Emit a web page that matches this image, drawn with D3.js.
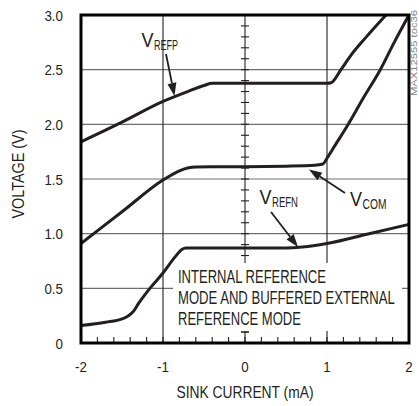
<!DOCTYPE html>
<html><head><meta charset="utf-8">
<script src="https://cdn.jsdelivr.net/npm/d3@7"></script>
<style>
body{margin:0;background:#fff;}
text{font-family:"Liberation Sans",Arial,sans-serif;fill:#231f20;}
</style></head>
<body><svg id="c" width="419" height="406"></svg>
<script>
// Data (x: sink current mA, y: voltage V)
const vrefpX = [-2, -1.5, -1.0, -0.7, -0.5, -0.4, 0, 0.5, 1.0, 1.05, 1.17, 1.28, 1.48, 1.72];
const vrefpY = [1.84, 2.02, 2.21, 2.30, 2.355, 2.375, 2.375, 2.375, 2.375, 2.38, 2.5, 2.62, 2.8, 3.0];
const vcomX = [-2, -1.5, -1.0, -0.8, -0.7, -0.6, -0.4, 0, 0.5, 0.85, 0.95, 1.0, 1.1, 1.25, 1.45, 1.65, 1.82, 2.0];
const vcomY = [0.91, 1.2, 1.49, 1.575, 1.60, 1.61, 1.613, 1.613, 1.617, 1.625, 1.637, 1.69, 1.81, 1.99, 2.25, 2.5, 2.75, 3.0];
const vrefnX = [-2, -1.7, -1.5, -1.42, -1.36, -1.3, -1.16, -1.0, -0.85, -0.77, -0.72, -0.5, 0, 0.5, 0.7, 1.0, 1.5, 2.0];
const vrefnY = [0.16, 0.19, 0.22, 0.25, 0.29, 0.36, 0.5, 0.64, 0.79, 0.855, 0.868, 0.87, 0.87, 0.87, 0.878, 0.91, 0.997, 1.085];
const xTicks = [-2, -1, 0, 1, 2];
const xTickLabels = ["-2", "-1", "0", "1", "2"];
const yTicks = [0, 0.5, 1.0, 1.5, 2.0, 2.5, 3.0];
const yTickLabels = ["0", "0.5", "1.0", "1.5", "2.0", "2.5", "3.0"];
const xTitle = "SINK CURRENT (mA)";
const yTitle = "VOLTAGE (V)";
const noteLines = ["INTERNAL REFERENCE", "MODE AND BUFFERED EXTERNAL", "REFERENCE MODE"];
const docId = "MAX12555 toc36";

const svg = d3.select("#c");
const L = 81, R = 409, T = 15, B = 343;
const x = d3.scaleLinear().domain([-2, 2]).range([L, R]);
const y = d3.scaleLinear().domain([0, 3]).range([B, T]);
const ink = "#231f20";
const narrow = 0.86; // condensed-font width factor

function fitText(sel) {
  sel.each(function () {
    const w = this.getComputedTextLength();
    d3.select(this).attr("textLength", w * narrow).attr("lengthAdjust", "spacingAndGlyphs");
  });
}

// horizontal gray grid
svg.selectAll(".hg").data(yTicks.filter(v => v > 0 && v < 3)).enter().append("line")
  .attr("x1", L).attr("x2", R).attr("y1", d => y(d)).attr("y2", d => y(d))
  .attr("stroke", "#6d6e71").attr("stroke-width", 1.1);
// vertical grid at -1, 0, 1
svg.selectAll(".vg").data([-1, 0, 1]).enter().append("line")
  .attr("x1", d => x(d)).attr("x2", d => x(d)).attr("y1", T).attr("y2", B)
  .attr("stroke", ink).attr("stroke-width", 1.1);
// center axis minor ticks every 0.1 V
const cTicks = d3.range(1, 30).map(i => i / 10);
svg.selectAll(".ct").data(cTicks).enter().append("line")
  .attr("x1", x(0) - 4).attr("x2", x(0) + 4).attr("y1", d => y(d)).attr("y2", d => y(d))
  .attr("stroke", ink).attr("stroke-width", 1.1);
// bottom minor ticks every 0.2 mA
const bTicks = d3.range(-9, 10).map(i => i / 5);
svg.selectAll(".bt").data(bTicks).enter().append("line")
  .attr("x1", d => x(d)).attr("x2", d => x(d)).attr("y1", B).attr("y2", B - 6)
  .attr("stroke", ink).attr("stroke-width", 1.1);

// note box (white background)
svg.append("rect").attr("x", 173).attr("y", 263).attr("width", 229).attr("height", 68).attr("fill", "#fff");
const noteW = [148, 217, 123];
noteLines.forEach((t, i) => {
  const g = svg.append("g");
  const tx = g.append("text").attr("x", 0).attr("y", 0).attr("font-size", 17.5).text(t);
  const sx = noteW[i] / tx.node().getComputedTextLength();
  g.attr("transform", `translate(178,${283 + i * 21}) scale(${sx},1)`);
});
// center tick visible below box
svg.append("line").attr("x1", x(0) - 4).attr("x2", x(0) + 4).attr("y1", y(0.1)).attr("y2", y(0.1)).attr("stroke", ink);

// curves
const line = d3.line().curve(d3.curveMonotoneX);
[[vrefpX, vrefpY], [vcomX, vcomY], [vrefnX, vrefnY]].forEach(([xs, ys]) => {
  svg.append("path").attr("d", line(xs.map((v, i) => [x(v), y(ys[i])])))
    .attr("fill", "none").attr("stroke", ink).attr("stroke-width", 3).attr("stroke-linejoin", "round");
});

// frame
svg.append("rect").attr("x", L).attr("y", T).attr("width", R - L).attr("height", B - T)
  .attr("fill", "none").attr("stroke", "#000").attr("stroke-width", 3);

// axes labels
svg.selectAll(".yl").data(yTicks).enter().append("text")
  .attr("x", 63).attr("y", d => y(d)).attr("dy", "0.36em").attr("text-anchor", "end")
  .attr("font-size", 15.5).text((d, i) => yTickLabels[i]).call(fitText);
svg.selectAll(".xl").data(xTicks).enter().append("text")
  .attr("x", d => x(d)).attr("y", 372).attr("text-anchor", "middle")
  .attr("font-size", 15.5).text((d, i) => xTickLabels[i]).call(fitText);
svg.append("text").attr("x", 245).attr("y", 398).attr("text-anchor", "middle").attr("font-size", 16.5)
  .attr("textLength", 137).attr("lengthAdjust", "spacingAndGlyphs").text(xTitle);
svg.append("text").attr("transform", "translate(23.5,174) rotate(-90)").attr("text-anchor", "middle").attr("font-size", 16.5)
  .attr("textLength", 89).attr("lengthAdjust", "spacingAndGlyphs").text(yTitle);
svg.append("text").attr("transform", "translate(417,53) rotate(-90)").attr("text-anchor", "middle")
  .attr("font-size", 9).attr("textLength", 86).attr("lengthAdjust", "spacingAndGlyphs")
  .style("fill", "#808285").text(docId);

// series labels
function vlabel(px, py, sub, subW) {
  svg.append("text").attr("x", px).attr("y", py).attr("font-size", 19.5)
    .attr("textLength", 12).attr("lengthAdjust", "spacingAndGlyphs").text("V");
  svg.append("text").attr("x", px + 12.5).attr("y", py + 2.5).attr("font-size", 14)
    .attr("textLength", subW).attr("lengthAdjust", "spacingAndGlyphs").text(sub);
}
vlabel(141.5, 47, "REFP", 24);
vlabel(259.5, 204, "REFN", 26);
vlabel(350, 206, "COM", 24);

// arrows
function arrow(x1, y1, x2, y2) {
  const a = Math.atan2(y2 - y1, x2 - x1), len = 13, w = 4.5;
  const bx = x2 - len * Math.cos(a), by = y2 - len * Math.sin(a);
  svg.append("line").attr("x1", x1).attr("y1", y1).attr("x2", bx).attr("y2", by).attr("stroke", ink).attr("stroke-width", 1.8);
  const p = [[x2, y2], [bx + w * Math.sin(a), by - w * Math.cos(a)], [bx - w * Math.sin(a), by + w * Math.cos(a)]];
  svg.append("path").attr("d", "M" + p.map(q => q.join(",")).join("L") + "Z").attr("fill", ink);
}
arrow(166, 54, 174.5, 96);
arrow(271, 212, 298, 247);
arrow(345, 193, 309, 169.5);
</script></body></html>
